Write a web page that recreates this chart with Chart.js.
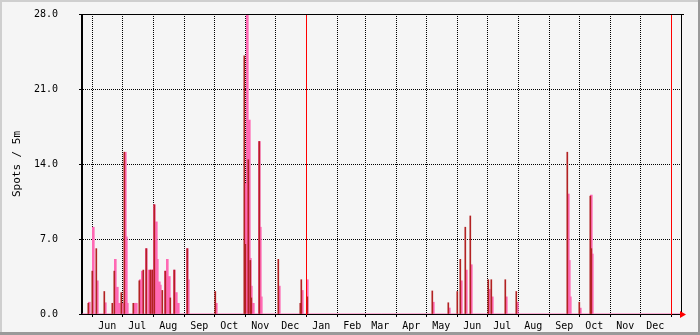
<!DOCTYPE html>
<html>
<head>
<meta charset="utf-8">
<script src="https://cdn.jsdelivr.net/npm/chart.js@4/dist/chart.umd.min.js"></script>
<style>
  html, body { margin: 0; padding: 0; background: #f5f5f5; }
  canvas { display: block; }
</style>
</head>
<body>
<canvas id="spotsChart" width="700" height="335"></canvas>
<script>
// days counted from 1 June of the first year (1 px per day on the axis)
const monthStarts = [0, 30, 61, 92, 122, 153, 183, 214, 245, 273, 304, 334, 365, 395, 426, 457, 487, 518, 548, 579];
const monthLabels = ["Jun", "Jul", "Aug", "Sep", "Oct", "Nov", "Dec", "Jan", "Feb", "Mar", "Apr", "May",
                     "Jun", "Jul", "Aug", "Sep", "Oct", "Nov", "Dec", ""];
const yearStarts = [214, 579];

const yTicks = [0, 7, 14, 21, 28];

// dark red series (average)
const avgDays = [-4, 0, 4, 12, 20, 22, 29, 32, 41, 47, 51, 54, 58, 60, 62, 70, 73, 78, 82, 95,
                 123, 152, 153, 156, 158, 159, 167, 186, 208, 209, 215,
                 340, 356, 365, 368, 373, 378, 396, 399, 413, 424, 475, 487, 498, 499];
const avgValues = [1.0, 4.0, 6.1, 2.1, 1.0, 4.0, 2.0, 15.1, 1.0, 3.1, 4.1, 6.1, 4.1, 4.1, 10.2, 2.2, 4.0, 1.5, 4.1, 6.1,
                   2.1, 24.1, 6.5, 14.4, 5.0, 1.5, 16.1, 5.1, 1.0, 3.2, 1.6,
                   2.15, 1.05, 2.1, 5.1, 8.1, 9.15, 3.2, 3.2, 3.2, 2.1, 15.1, 1.1, 11.0, 6.1];

// pink series (maximum)
const maxDays = [-3, 1, 5, 13, 23, 25, 27, 30, 33, 34, 35, 43, 44, 48, 50, 54, 57, 59, 61, 62, 64, 65, 67, 68,
                 73, 75, 77, 82, 84, 86, 95, 96, 124,
                 153, 155, 157, 158, 159, 161, 167, 168, 169, 187, 210, 215,
                 341, 357, 369, 374, 379, 397, 400, 414, 425, 476, 477, 478, 488, 499, 500];
const maxValues = [1.1, 8.1, 3.1, 1.05, 5.1, 2.5, 1.0, 1.0, 15.1, 7.2, 1.0, 1.0, 1.0, 3.2, 4.0, 6.1, 4.1, 4.1, 4.1, 10.2, 8.6, 5.1, 3.0, 2.7,
                   4.0, 5.1, 3.5, 4.1, 2.0, 1.0, 6.1, 3.2, 1.0,
                   12.2, 30, 18.1, 5.2, 2.6, 1.0, 16.1, 8.1, 1.6, 2.6, 2.2, 3.2,
                   1.1, 0.56, 3.1, 4.1, 4.6, 2.3, 1.6, 1.6, 1.1, 11.2, 5.0, 1.6, 0.55, 11.1, 5.6];

const xMin = -10.3;
const xMax = 588.7;

const FONT = "'DejaVu Sans Mono', monospace";

const framePlugin = {
    id: "frame",
    beforeDraw(chart){
        const ctx = chart.ctx;
        const w = chart.width, h = chart.height;
        ctx.save();
        ctx.fillStyle = "#f5f5f5";
        ctx.fillRect(0, 0, w, h);
        // shaded outer border
        ctx.fillStyle = "#cfcfcf";
        ctx.fillRect(0, 0, w, 2);
        ctx.fillRect(0, 0, 2, h);
        ctx.fillStyle = "#9a9a9a";
        ctx.fillRect(w - 2, 0, 2, h);
        ctx.fillRect(0, h - 3, w, 3);
        ctx.restore();
    },
    afterDatasetsDraw(chart){
        const ctx = chart.ctx;
        const a = chart.chartArea;
        const xs = chart.scales.x;
        const top = Math.round(a.top);
        const bottom = Math.round(a.bottom);
        const left = Math.round(a.left);
        const right = Math.round(a.right);
        ctx.save();
        // year rules
        ctx.fillStyle = "#ff0000";
        yearStarts.forEach(d=>{
            const px = Math.floor(xs.getPixelForValue(d));
            ctx.fillRect(px, top, 1, bottom - top + 1);
        });
        // solid frame of the plot
        ctx.fillStyle = "#000000";
        ctx.fillRect(left - 1, top, 1, bottom - top + 1);
        ctx.fillRect(left - 1, top, right - left + 4, 1);
        ctx.fillRect(right, top, 1, bottom - top + 1);
        // arrow at the end of the x axis
        const ay = bottom + 0.5;
        ctx.fillStyle = "#ff0000";
        ctx.beginPath();
        ctx.moveTo(right - 1, ay - 3.5);
        ctx.lineTo(right + 5, ay);
        ctx.lineTo(right - 1, ay + 3.5);
        ctx.closePath();
        ctx.fill();
        ctx.restore();
    }
};

const ctx = document.getElementById("spotsChart").getContext("2d");

new Chart(ctx, {
    type: "bar",
    data: {
        datasets: [
            {
                type: "line",
                data: [{x: xMin, y: 0}, {x: xMax, y: 0}],
                borderColor: "#ff69b4",
                borderWidth: 1,
                pointRadius: 0,
                order: 3
            },
            {
                data: maxDays.map((d, i)=>({x: d, y: maxValues[i]})),
                backgroundColor: "#ff69b4",
                barThickness: 2,
                grouped: false,
                order: 2
            },
            {
                data: avgDays.map((d, i)=>({x: d, y: avgValues[i]})),
                backgroundColor: "#b22222",
                barThickness: 1,
                grouped: false,
                order: 1
            }
        ]
    },
    options: {
        responsive: false,
        animation: false,
        layout: {
            padding: {left: 0, right: 19, top: 14, bottom: 0}
        },
        plugins: {
            legend: {display: false},
            tooltip: {enabled: false}
        },
        scales: {
            x: {
                type: "linear",
                min: xMin,
                max: xMax,
                offset: false,
                afterBuildTicks(scale){
                    scale.ticks = monthStarts.map(v=>({value: v}));
                },
                afterFit(scale){
                    scale.height = 21;
                    scale.paddingLeft = 0;
                    scale.paddingRight = 0;
                },
                grid: {
                    offset: false,
                    color: "#000000",
                    lineWidth: 1,
                    drawTicks: true,
                    tickLength: 3,
                    tickColor: "#000000"
                },
                border: {
                    display: true,
                    color: "#000000",
                    dash: [1, 1]
                },
                ticks: {
                    autoSkip: false,
                    maxRotation: 0,
                    labelOffset: 15,
                    padding: 3,
                    color: "#000000",
                    font: {family: FONT, size: 10},
                    callback: (value, index)=>monthLabels[index]
                }
            },
            y: {
                min: 0,
                max: 28,
                afterBuildTicks(scale){
                    scale.ticks = yTicks.map(v=>({value: v}));
                },
                afterFit(scale){
                    scale.width = 82;
                    scale.paddingTop = 0;
                    scale.paddingBottom = 0;
                },
                grid: {
                    color: "#000000",
                    lineWidth: 1,
                    drawTicks: true,
                    tickLength: 3,
                    tickColor: "#000000"
                },
                border: {
                    display: true,
                    color: "#000000",
                    dash: [1, 1]
                },
                ticks: {
                    padding: 21,
                    color: "#000000",
                    font: {family: FONT, size: 10},
                    callback: v=>v.toFixed(1)
                },
                title: {
                    display: true,
                    text: "Spots / 5m",
                    color: "#000000",
                    font: {family: FONT, size: 11},
                    padding: {top: 11, bottom: 0}
                }
            }
        }
    },
    plugins: [framePlugin]
});
</script>
</body>
</html>
